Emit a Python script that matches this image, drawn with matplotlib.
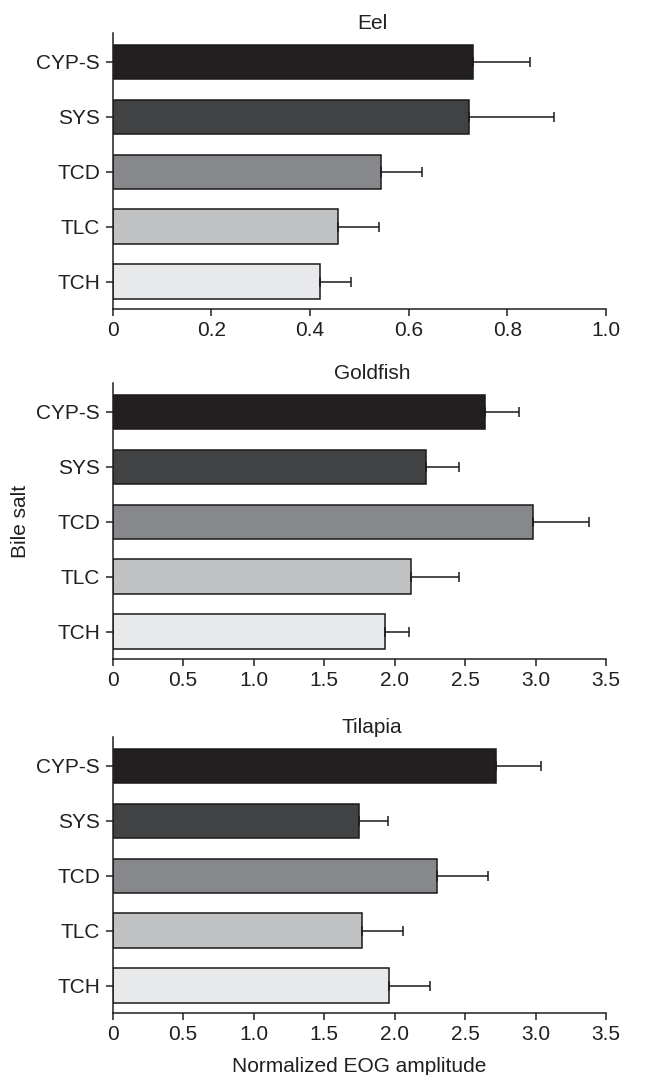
import numpy as np
import matplotlib
matplotlib.use("Agg")
import matplotlib.pyplot as plt

plt.rcParams['font.family'] = ['Liberation Sans', 'DejaVu Sans']

# bile salts, top to bottom
salts = ['CYP-S', 'SYS', 'TCD', 'TLC', 'TCH']
bar_colors = ['#231f20', '#414244', '#87888b', '#c0c1c3', '#e8e9ea']

# mean normalized EOG amplitude and upper error (SEM) per species
eel_mean = [0.730, 0.722, 0.544, 0.456, 0.421]
eel_err = [0.116, 0.173, 0.083, 0.083, 0.063]

goldfish_mean = [2.64, 2.22, 2.98, 2.12, 1.93]
goldfish_err = [0.24, 0.24, 0.40, 0.34, 0.17]

tilapia_mean = [2.72, 1.75, 2.30, 1.77, 1.96]
tilapia_err = [0.32, 0.20, 0.36, 0.29, 0.29]

panels = [
    ('Eel', eel_mean, eel_err, 1.0, [0, 0.2, 0.4, 0.6, 0.8, 1.0], ['0', '0.2', '0.4', '0.6', '0.8', '1.0']),
    ('Goldfish', goldfish_mean, goldfish_err, 3.5, [0, 0.5, 1, 1.5, 2, 2.5, 3, 3.5],
     ['0', '0.5', '1.0', '1.5', '2.0', '2.5', '3.0', '3.5']),
    ('Tilapia', tilapia_mean, tilapia_err, 3.5, [0, 0.5, 1, 1.5, 2, 2.5, 3, 3.5],
     ['0', '0.5', '1.0', '1.5', '2.0', '2.5', '3.0', '3.5']),
]

W, H = 648, 1075
fig = plt.figure(figsize=(W / 100, H / 100), dpi=100)

left = 112.7 / W
width = (606 - 112.7) / W
tops = [33, 383, 737]
ax_h = 276 / H
fs = 15

y = np.arange(len(salts))
for (name, mean, err, xmax, ticks, ticklabels), top in zip(panels, tops):
    ax = fig.add_axes([left, 1 - top / H - ax_h, width, ax_h])
    ax.barh(y, mean, height=0.62, color=bar_colors, edgecolor='#1a1a1a', linewidth=1.1, zorder=2)
    ax.errorbar(mean, y, xerr=[np.zeros(len(mean)), err], fmt='none', ecolor='#1a1a1a',
                elinewidth=1.1, capsize=3.8, capthick=1.1, zorder=3)
    ax.set_xlim(0, xmax)
    ax.set_ylim(4.5, -0.52)
    ax.set_yticks(y)
    ax.set_yticklabels(salts, fontsize=fs, color='#231f20')
    ax.set_xticks(ticks)
    ax.set_xticklabels(ticklabels, fontsize=fs, color='#231f20')
    ax.tick_params(direction='out', length=5, width=1.1, color='#231f20', pad=4)
    for s in ['top', 'right']:
        ax.spines[s].set_visible(False)
    for s in ['left', 'bottom']:
        ax.spines[s].set_linewidth(1.1)
        ax.spines[s].set_color('#231f20')
    ax.set_title(name, fontsize=fs, x=0.526, pad=3, color='#231f20')

ax.set_xlabel('Normalized EOG amplitude', fontsize=fs, labelpad=9, color='#231f20')
fig.text(20 / W, 1 - 521 / H, 'Bile salt', rotation=90, fontsize=fs, ha='center', va='center',
         color='#231f20')

fig.savefig('out.png', dpi=100)
